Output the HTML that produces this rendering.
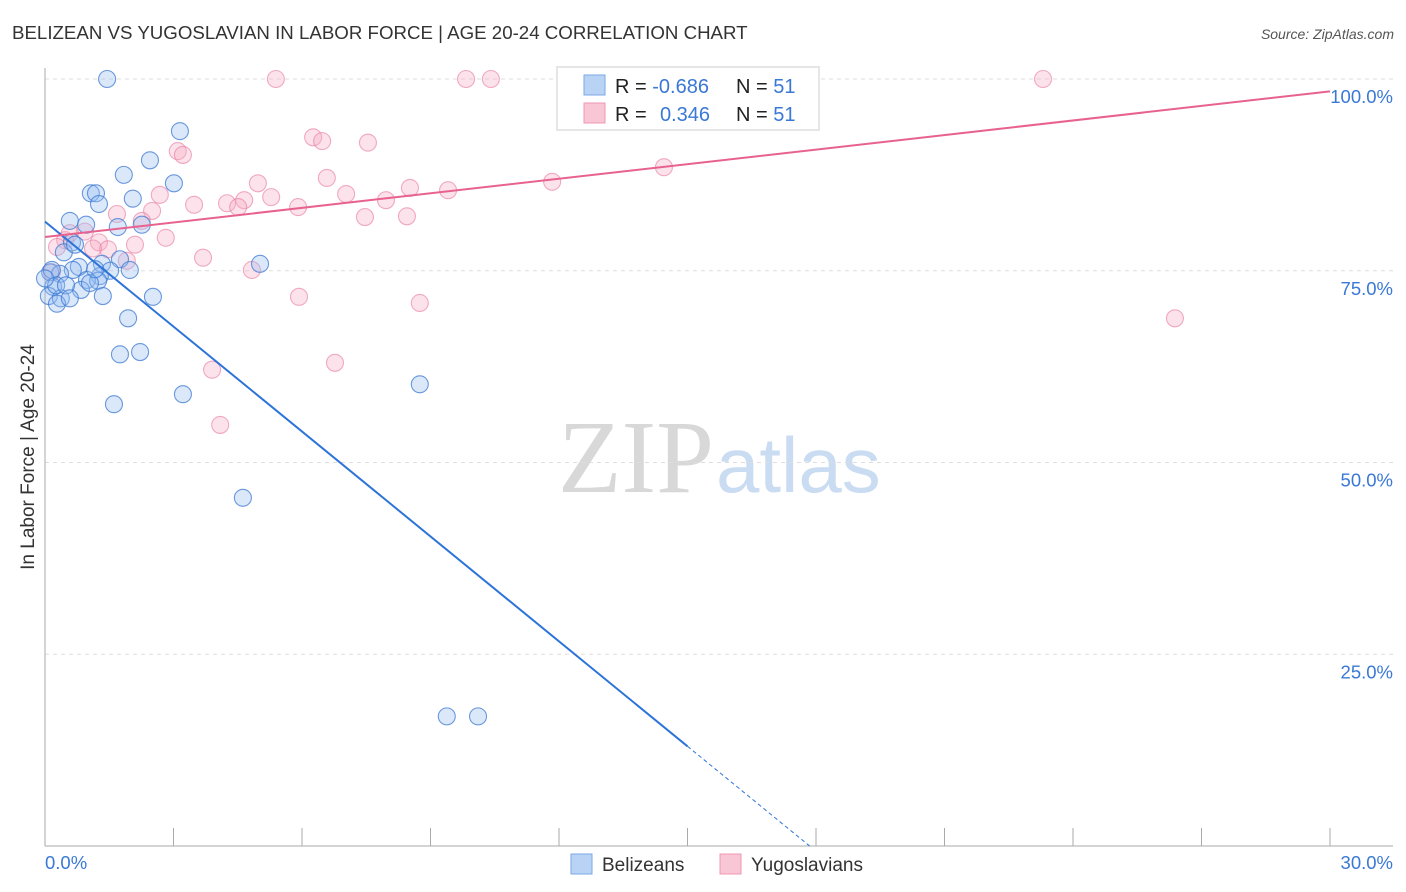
<!DOCTYPE html>
<html><head><meta charset="utf-8"><style>
body{margin:0;background:#fff;font-family:"Liberation Sans",sans-serif;}
svg{display:block}
</style></head><body>
<svg id="chart" width="1406" height="892">
<text x="12" y="39" font-size="18.7" fill="#333">BELIZEAN VS YUGOSLAVIAN IN LABOR FORCE | AGE 20-24 CORRELATION CHART</text>
<text x="1394" y="39" font-size="14" fill="#555" text-anchor="end" font-style="italic">Source: ZipAtlas.com</text>
<text x="714" y="492" font-size="104" fill="#d8d8d8" text-anchor="end" font-family="Liberation Serif, serif">ZIP</text>
<text x="716" y="492" font-size="78" fill="#c9dcf2">atlas</text>
<text transform="translate(34,457) rotate(-90)" font-size="19" fill="#333" text-anchor="middle">In Labor Force | Age 20-24</text>
<g id="grid"></g><g id="pts"></g><g id="trend"></g>
<g>
<rect x="557" y="67" width="262" height="63" fill="#fff" stroke="#ddd" stroke-width="1.5"/>
<rect x="584" y="75" width="21" height="20" fill="#b9d3f5" stroke="#7aa9e6"/>
<rect x="584" y="103" width="21" height="20" fill="#f9c6d5" stroke="#ef97b2"/>
<text x="615" y="93" font-size="20" fill="#222">R = <tspan fill="#3a78d6">-0.686</tspan></text>
<text x="736" y="93" font-size="20" fill="#222">N = <tspan fill="#3a78d6">51</tspan></text>
<text x="615" y="121" font-size="20" fill="#222">R = <tspan fill="#3a78d6" x="660">0.346</tspan></text>
<text x="736" y="121" font-size="20" fill="#222">N = <tspan fill="#3a78d6">51</tspan></text>
</g>
<g>
<rect x="571" y="854" width="21" height="20" fill="#b9d3f5" stroke="#7aa9e6"/>
<text x="602" y="871" font-size="19" fill="#333">Belizeans</text>
<rect x="720" y="854" width="21" height="20" fill="#f9c6d5" stroke="#ef97b2"/>
<text x="751" y="871" font-size="19" fill="#333">Yugoslavians</text>
</g>
</svg>
<script>
const blueX=[1.45,3.15,2.45,1.84,3.01,1.07,1.19,2.05,1.26,0.58,1.70,2.26,0.96,0.63,0.44,5.02,1.75,1.33,0.79,0.65,1.52,0.12,0.35,1.28,0.98,1.24,0.19,0.84,0.09,0.37,1.35,2.52,0.28,1.94,1.75,2.22,8.75,3.22,1.61,4.62,9.38,10.11,0.16,0.26,1.05,0.49,0.70,1.98,0.58,1.17,0];
const blueY=[100,93.2,89.4,87.5,86.4,85.1,85.1,84.4,83.7,81.5,80.7,81.0,81.0,78.7,77.4,75.9,76.5,75.9,75.5,75.1,75.0,74.8,74.6,74.3,73.8,73.7,72.9,72.5,71.7,71.4,71.7,71.6,70.7,68.8,64.1,64.4,60.2,58.9,57.6,45.4,16.9,16.9,75.1,73.1,73.4,73.1,78.4,75.1,71.4,75.2,74.0];
const pinkX=[5.39,9.83,10.41,13.54,13.89,15.43,23.30,6.26,6.47,7.54,3.10,3.22,14.45,6.58,4.97,11.84,8.52,9.41,2.68,7.03,5.28,7.96,4.65,4.25,3.48,5.91,4.51,2.50,1.68,8.45,7.47,2.26,0.93,2.82,0.47,1.26,0.28,2.10,1.47,1.12,3.69,1.91,4.83,0.16,5.93,8.75,26.38,6.77,3.90,4.09,0.58];
const pinkY=[100,100,100,100,100,100,100,92.4,91.9,91.7,90.6,90.1,88.5,87.1,86.4,86.6,85.8,85.5,84.9,85.0,84.6,84.2,84.2,83.8,83.6,83.3,83.3,82.8,82.4,82.1,82.0,81.5,80.1,79.3,79.0,78.7,78.1,78.4,77.8,77.9,76.7,76.3,75.1,74.8,71.6,70.8,68.8,63.0,62.1,54.9,79.9];
const yTicks=[25,50,75,100];
const yTickLabels=["25.0%","50.0%","75.0%","100.0%"];
const blueTrend=[81.4,-4.56];
const pinkTrend=[79.4,0.633];
const NS="http://www.w3.org/2000/svg";
const sx=v=>45+v/30*1285, sy=v=>846-v/100*767;
function mk(tag,attrs,parent){const e=document.createElementNS(NS,tag);for(const k in attrs)e.setAttribute(k,attrs[k]);parent.appendChild(e);return e;}
const grid=document.getElementById('grid');
yTicks.forEach((t,i)=>{
  const l=mk('line',{x1:45,x2:1393,y1:sy(t),y2:sy(t),stroke:'#ddd','stroke-dasharray':'4,4'},grid);
  
  
  const tx=mk('text',{x:1393,y:sy(t)+24,'font-size':18.5,fill:'#3a78d6','text-anchor':'end'},grid);
  tx.textContent=yTickLabels[i];
  
  
});
const ax=mk('line',{x1:45,x2:45,y1:68,y2:846,stroke:'#aaa'},grid);


const bx=mk('line',{x1:45,x2:1393,y1:846,y2:846,stroke:'#aaa'},grid);


for(let i=0;i<=10;i++){const t=mk('line',{x1:sx(i*3),x2:sx(i*3),y1:828,y2:846,stroke:'#aaa'},grid);
  
  }
const x0=mk('text',{x:45,y:869,'font-size':18.5,fill:'#3a78d6'},grid);x0.textContent='0.0%';


const x1=mk('text',{x:1393,y:869,'font-size':18.5,fill:'#3a78d6','text-anchor':'end'},grid);x1.textContent='30.0%';


const pts=document.getElementById('pts');
function draw(X,Y,fill,stroke,name){X.forEach((x,i)=>{const c=mk('circle',{cx:sx(x),cy:sy(Y[i]),r:8.5,fill:fill,stroke:stroke,'stroke-width':1.1},pts);
  
  });}
draw(pinkX,pinkY,'rgba(246,172,196,0.35)','rgba(232,120,160,0.6)','yugoslavian-point');
draw(blueX,blueY,'rgba(150,190,240,0.35)','rgba(60,120,210,0.75)','belizean-point');
const tr=document.getElementById('trend');
const bEnd=15.0, bZero=-blueTrend[0]/blueTrend[1];
const bl=mk('line',{x1:sx(0),y1:sy(blueTrend[0]),x2:sx(bEnd),y2:sy(blueTrend[0]+blueTrend[1]*bEnd),stroke:'#2d74d9','stroke-width':2},tr);


const bd=mk('line',{x1:sx(bEnd),y1:sy(blueTrend[0]+blueTrend[1]*bEnd),x2:sx(bZero),y2:sy(0),stroke:'#2d74d9','stroke-width':1,'stroke-dasharray':'4,3'},tr);


const pl=mk('line',{x1:sx(0),y1:sy(pinkTrend[0]),x2:sx(30),y2:sy(pinkTrend[0]+pinkTrend[1]*30),stroke:'#e8628f','stroke-width':2},tr);


</script>
</body></html>
